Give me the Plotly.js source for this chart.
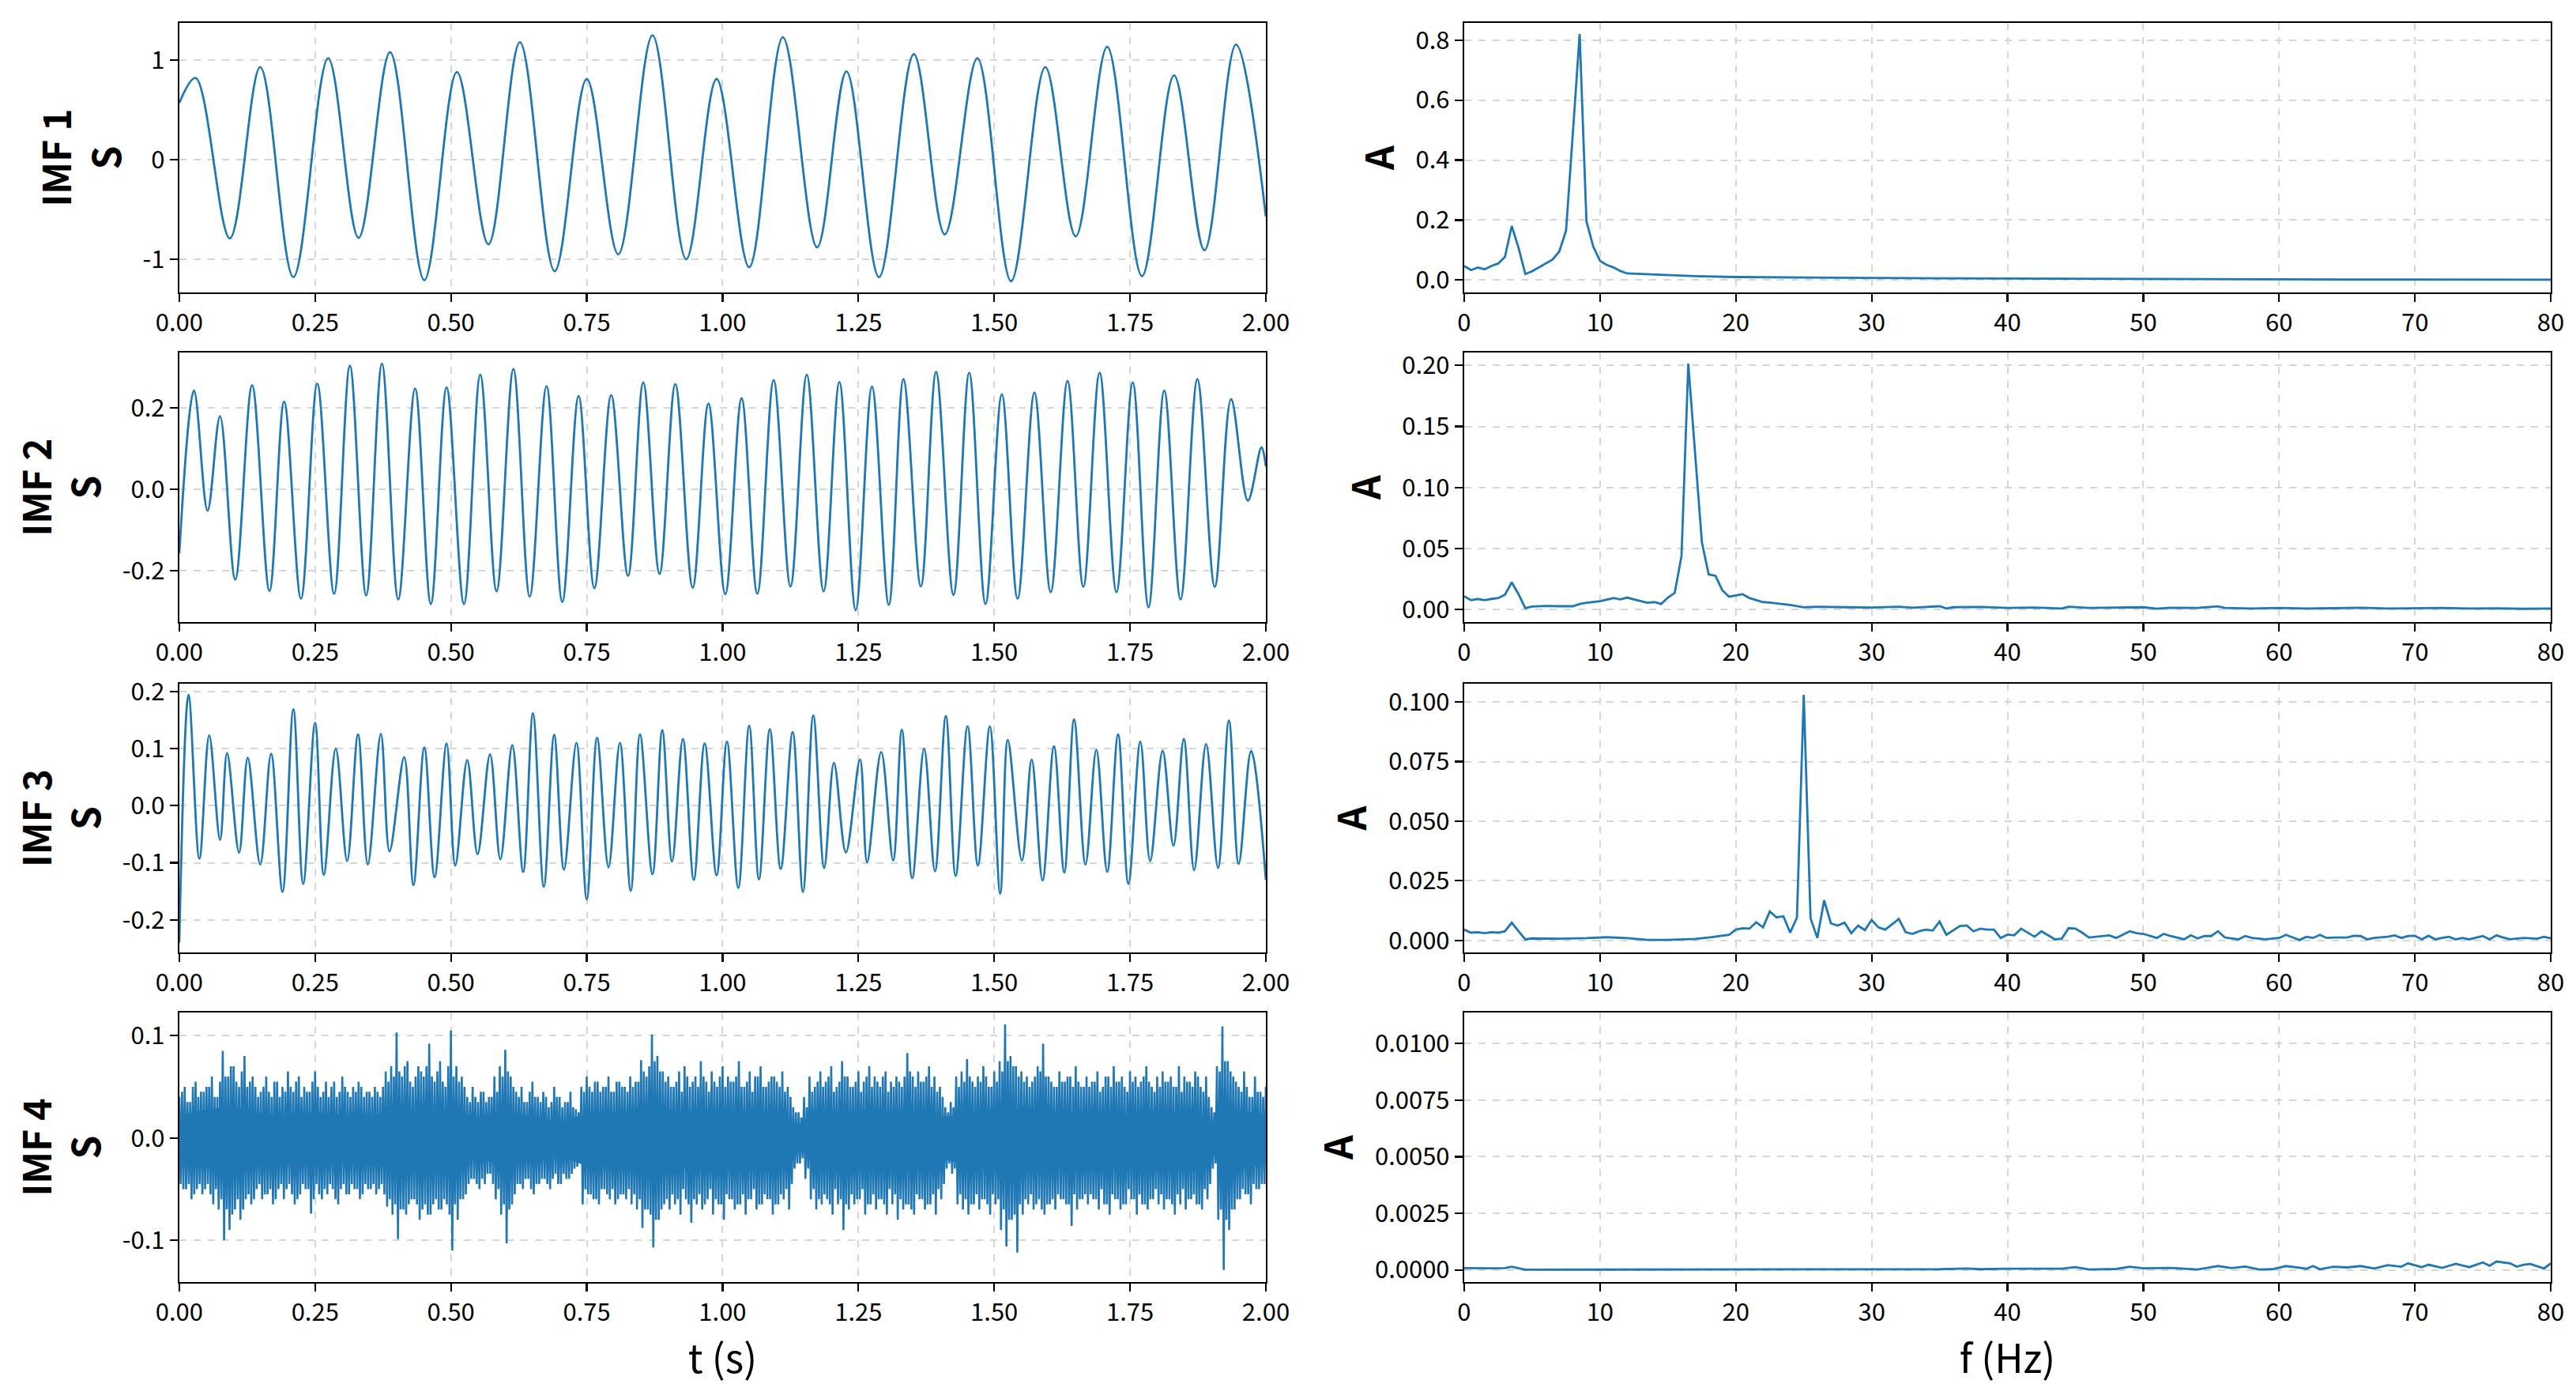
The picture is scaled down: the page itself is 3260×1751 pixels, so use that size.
<!DOCTYPE html>
<html>
<head>
<meta charset="utf-8">
<script src="https://cdn.plot.ly/plotly-3.0.1.min.js"></script>
<style>html,body{margin:0;padding:0;background:#fff}#chart{width:3260px;height:1751px}</style>
</head>
<body>
<div id="chart"></div>
<script>
// ---------- IMF time-domain data (extrema) ----------
const imf1T = [0,0.030,0.093,0.149,0.210,0.274,0.330,0.388,0.451,0.511,0.569,0.627,0.691,0.750,0.808,0.871,0.933,0.989,1.049,1.111,1.174,1.228,1.288,1.352,1.409,1.469,1.531,1.594,1.650,1.708,1.772,1.831,1.887,1.945,2.0];
const imf1V = [0.57,0.82,-0.79,0.93,-1.18,1.02,-0.785,1.08,-1.21,0.88,-0.85,1.18,-1.12,0.81,-0.95,1.25,-1.0,0.81,-1.08,1.23,-0.88,0.886,-1.18,1.06,-0.75,1.02,-1.22,0.93,-0.77,1.135,-1.17,0.846,-0.91,1.157,-0.57];

const imf2T = [0,0.027,0.052,0.075,0.103,0.134,0.166,0.193,0.224,0.254,0.285,0.314,0.344,0.373,0.403,0.434,0.463,0.492,0.524,0.554,0.584,0.615,0.645,0.676,0.705,0.735,0.764,0.795,0.826,0.854,0.884,0.913,0.945,0.974,1.005,1.035,1.064,1.094,1.125,1.155,1.186,1.215,1.245,1.275,1.306,1.333,1.365,1.393,1.425,1.454,1.484,1.514,1.543,1.574,1.604,1.635,1.664,1.694,1.725,1.755,1.784,1.813,1.843,1.874,1.906,1.936,1.967,1.992,2.0];
const imf2V = [-0.157,0.243,-0.052,0.18,-0.221,0.256,-0.249,0.216,-0.268,0.26,-0.256,0.304,-0.26,0.309,-0.27,0.248,-0.281,0.251,-0.281,0.282,-0.25,0.296,-0.263,0.254,-0.276,0.23,-0.242,0.232,-0.212,0.263,-0.207,0.259,-0.241,0.211,-0.257,0.224,-0.256,0.269,-0.238,0.282,-0.25,0.264,-0.296,0.253,-0.283,0.271,-0.238,0.289,-0.259,0.287,-0.281,0.234,-0.268,0.238,-0.252,0.267,-0.239,0.287,-0.252,0.263,-0.289,0.243,-0.27,0.271,-0.239,0.222,-0.027,0.104,0.057];

const imf3T = [0,0.017,0.037,0.055,0.075,0.088,0.110,0.126,0.149,0.169,0.190,0.210,0.228,0.250,0.266,0.288,0.309,0.329,0.347,0.371,0.387,0.414,0.431,0.451,0.470,0.492,0.508,0.530,0.549,0.572,0.591,0.613,0.633,0.651,0.671,0.690,0.708,0.731,0.750,0.769,0.790,0.811,0.831,0.848,0.871,0.889,0.907,0.927,0.947,0.967,0.989,1.008,1.029,1.049,1.067,1.087,1.107,1.129,1.148,1.167,1.187,1.205,1.227,1.253,1.266,1.292,1.314,1.330,1.349,1.371,1.391,1.411,1.429,1.451,1.470,1.492,1.511,1.525,1.551,1.569,1.589,1.610,1.629,1.647,1.668,1.688,1.708,1.728,1.747,1.769,1.787,1.810,1.830,1.849,1.868,1.890,1.912,1.932,1.950,1.973,2.0];
const imf3V = [-0.24,0.194,-0.093,0.123,-0.06,0.092,-0.082,0.084,-0.103,0.091,-0.151,0.169,-0.137,0.145,-0.121,0.1,-0.097,0.125,-0.103,0.126,-0.08,0.085,-0.139,0.102,-0.125,0.109,-0.105,0.08,-0.085,0.09,-0.094,0.106,-0.116,0.162,-0.142,0.124,-0.112,0.11,-0.164,0.119,-0.108,0.11,-0.149,0.125,-0.12,0.132,-0.098,0.117,-0.13,0.109,-0.122,0.112,-0.144,0.14,-0.129,0.134,-0.111,0.129,-0.151,0.158,-0.109,0.075,-0.082,0.081,-0.099,0.094,-0.096,0.133,-0.127,0.1,-0.115,0.157,-0.123,0.139,-0.105,0.139,-0.154,0.115,-0.096,0.081,-0.131,0.104,-0.117,0.151,-0.103,0.098,-0.116,0.125,-0.137,0.112,-0.097,0.096,-0.07,0.117,-0.113,0.108,-0.109,0.149,-0.102,0.096,-0.13];

// IMF 4: excursions read every 0.01 s; in each 0.01 s slot: hi, lo, hi2, lo2
const imf4Step = 0.01;
const imf4Hi = [
 0.04,0.05,0.035,0.055,0.045,0.05,0.06,0.04,
 0.085,0.06,0.07,0.05,0.08,0.055,
 0.05,0.045,0.06,0.04,0.055,0.05,0.065,0.045,0.06,0.05,0.045,0.065,0.04,0.055,0.05,0.04,0.06,0.045,0.05,0.055,0.04,
 0.045,0.05,0.04,0.065,0.07,0.103,0.06,0.075,0.05,0.07,0.06,0.092,0.055,0.075,0.05,0.105,0.07,0.06,
 0.04,0.05,0.035,0.045,0.04,0.06,
 0.07,0.086,0.06,
 0.045,0.05,0.035,0.055,0.04,0.045,0.03,0.05,0.04,0.035,0.045,0.028,
 0.05,0.06,0.045,0.055,0.05,0.06,0.045,0.055,0.05,0.06,0.055,
 0.076,0.06,0.101,0.08,0.065,
 0.06,0.05,0.065,0.07,0.05,0.06,0.075,0.055,0.065,0.05,0.07,0.06,0.055,0.075,0.05,0.065,0.06,0.07,0.05,0.06,0.055,0.065,0.05,
 0.03,0.025,0.04,
 0.06,0.05,0.065,0.055,0.07,0.05,0.075,0.06,0.05,0.065,0.055,0.07,0.06,0.05,0.065,0.055,0.06,0.05,0.083,0.06,0.065,0.055,0.07,0.06,0.05,
 0.03,0.035,
 0.06,0.065,0.077,0.055,0.06,0.07,0.05,0.065,
 0.075,0.111,0.08,0.07,
 0.065,0.06,0.055,0.07,0.092,0.06,0.05,0.065,0.055,0.06,0.07,0.05,
 0.06,0.055,0.065,0.05,0.06,0.07,0.055,0.05,0.065,0.06,0.055,0.07,0.05,0.06,0.065,0.055,0.05,0.07,0.06,0.055,0.065,0.05,0.06,
 0.03,
 0.07,0.109,0.075,0.06,
 0.05,0.065,0.04,0.06,0.045,0.05];
const imf4Lo = [
 -0.045,-0.05,-0.06,-0.05,-0.055,-0.045,-0.065,-0.07,
 -0.1,-0.09,-0.07,-0.08,-0.06,-0.065,
 -0.05,-0.06,-0.055,-0.065,-0.05,-0.06,-0.045,-0.065,-0.055,-0.05,-0.074,-0.045,-0.06,-0.055,-0.05,-0.065,-0.045,-0.055,-0.05,-0.06,-0.045,
 -0.05,-0.055,-0.045,-0.067,-0.075,-0.099,-0.07,-0.065,-0.06,-0.08,-0.065,-0.075,-0.06,-0.07,-0.065,-0.11,-0.08,-0.06,
 -0.045,-0.04,-0.05,-0.045,-0.035,-0.06,
 -0.075,-0.103,-0.065,
 -0.045,-0.05,-0.04,-0.055,-0.045,-0.04,-0.05,-0.035,-0.045,-0.04,-0.035,-0.028,
 -0.065,-0.055,-0.06,-0.065,-0.05,-0.06,-0.065,-0.055,-0.06,-0.065,-0.07,
 -0.088,-0.07,-0.107,-0.08,-0.065,
 -0.07,-0.065,-0.075,-0.06,-0.083,-0.065,-0.07,-0.06,-0.075,-0.065,-0.08,-0.06,-0.07,-0.065,-0.075,-0.06,-0.07,-0.065,-0.06,-0.075,-0.065,-0.06,-0.07,
 -0.03,-0.025,-0.04,
 -0.06,-0.07,-0.065,-0.06,-0.075,-0.065,-0.09,-0.07,-0.065,-0.06,-0.075,-0.065,-0.07,-0.06,-0.075,-0.065,-0.08,-0.07,-0.065,-0.075,-0.06,-0.07,-0.065,-0.075,-0.06,
 -0.03,-0.035,
 -0.065,-0.07,-0.075,-0.065,-0.07,-0.06,-0.075,-0.065,
 -0.09,-0.106,-0.08,-0.112,
 -0.075,-0.065,-0.07,-0.06,-0.075,-0.065,-0.07,-0.06,-0.065,-0.086,-0.07,-0.06,
 -0.065,-0.06,-0.07,-0.065,-0.075,-0.06,-0.07,-0.065,-0.06,-0.075,-0.065,-0.07,-0.06,-0.065,-0.07,-0.06,-0.075,-0.065,-0.07,-0.06,-0.065,-0.07,-0.06,
 -0.03,
 -0.08,-0.129,-0.09,-0.07,
 -0.06,-0.055,-0.065,-0.05,-0.045,-0.04];
const imf4Hi2 = [
 0.045,0.035,0.05,0.04,0.045,0.05,0.04,0.055,
 0.06,0.07,0.055,0.065,0.05,0.06,
 0.04,0.05,0.045,0.055,0.04,0.045,0.05,0.055,0.04,0.045,0.055,0.05,0.045,0.04,0.055,0.045,0.05,0.04,0.045,0.05,0.045,
 0.04,0.045,0.05,0.055,0.06,0.065,0.07,0.055,0.06,0.065,0.07,0.06,0.065,0.055,0.07,0.06,0.055,0.05,
 0.035,0.04,0.045,0.035,0.04,0.045,
 0.06,0.065,0.05,
 0.04,0.035,0.045,0.04,0.035,0.04,0.035,0.04,0.03,0.035,0.03,0.025,
 0.045,0.05,0.055,0.045,0.05,0.045,0.055,0.05,0.045,0.05,0.055,
 0.065,0.07,0.075,0.065,0.055,
 0.05,0.055,0.045,0.06,0.055,0.05,0.06,0.045,0.055,0.06,0.05,0.055,0.06,0.05,0.055,0.045,0.06,0.05,0.055,0.06,0.05,0.045,0.04,
 0.025,0.02,0.03,
 0.045,0.055,0.05,0.06,0.045,0.055,0.06,0.05,0.055,0.045,0.06,0.05,0.055,0.06,0.045,0.05,0.055,0.06,0.065,0.05,0.055,0.06,0.05,0.045,0.04,
 0.025,0.03,
 0.05,0.055,0.06,0.05,0.055,0.06,0.05,0.055,
 0.065,0.075,0.07,0.06,
 0.055,0.05,0.06,0.065,0.06,0.055,0.05,0.055,0.06,0.05,0.055,0.05,
 0.05,0.055,0.045,0.06,0.05,0.055,0.06,0.045,0.055,0.05,0.06,0.055,0.045,0.05,0.055,0.06,0.05,0.045,0.055,0.05,0.06,0.045,0.04,
 0.025,
 0.065,0.075,0.065,0.055,
 0.045,0.05,0.04,0.045,0.04];
const imf4Lo2 = [
 -0.05,-0.045,-0.055,-0.045,-0.05,-0.055,-0.05,-0.06,
 -0.07,-0.075,-0.06,-0.07,-0.055,-0.06,
 -0.045,-0.055,-0.05,-0.06,-0.045,-0.05,-0.055,-0.06,-0.045,-0.05,-0.06,-0.055,-0.05,-0.045,-0.06,-0.05,-0.055,-0.045,-0.05,-0.055,-0.05,
 -0.045,-0.05,-0.055,-0.06,-0.065,-0.07,-0.075,-0.06,-0.065,-0.07,-0.075,-0.065,-0.07,-0.06,-0.075,-0.065,-0.06,-0.055,
 -0.04,-0.045,-0.04,-0.035,-0.045,-0.05,
 -0.065,-0.07,-0.055,
 -0.045,-0.04,-0.05,-0.045,-0.04,-0.045,-0.04,-0.045,-0.035,-0.04,-0.03,-0.025,
 -0.05,-0.055,-0.06,-0.05,-0.055,-0.05,-0.06,-0.055,-0.05,-0.055,-0.06,
 -0.07,-0.075,-0.08,-0.07,-0.06,
 -0.055,-0.06,-0.05,-0.065,-0.06,-0.055,-0.065,-0.05,-0.06,-0.065,-0.055,-0.06,-0.065,-0.055,-0.06,-0.05,-0.065,-0.055,-0.06,-0.065,-0.055,-0.05,-0.045,
 -0.025,-0.02,-0.03,
 -0.05,-0.06,-0.055,-0.065,-0.05,-0.06,-0.065,-0.055,-0.06,-0.05,-0.065,-0.055,-0.06,-0.065,-0.05,-0.055,-0.06,-0.065,-0.07,-0.055,-0.06,-0.065,-0.055,-0.05,-0.045,
 -0.025,-0.03,
 -0.055,-0.06,-0.065,-0.055,-0.06,-0.065,-0.055,-0.06,
 -0.07,-0.08,-0.075,-0.065,
 -0.06,-0.055,-0.065,-0.07,-0.065,-0.06,-0.055,-0.06,-0.065,-0.055,-0.06,-0.055,
 -0.055,-0.06,-0.05,-0.065,-0.055,-0.06,-0.065,-0.05,-0.06,-0.055,-0.065,-0.06,-0.05,-0.055,-0.06,-0.065,-0.055,-0.05,-0.06,-0.055,-0.065,-0.05,-0.045,
 -0.025,
 -0.07,-0.08,-0.07,-0.06,
 -0.05,-0.055,-0.045,-0.05,-0.045];
// IMF 4: solid core of the band, every 0.05 s (t = 0.00 ... 2.00)
const imf4CoreStep = 0.05;
const imf4CoreHi = [0.022,0.028,0.03,0.024,0.022,0.025,0.022,0.02,0.03,0.026,0.028,0.02,0.026,0.02,0.015,0.024,0.022,0.03,0.027,0.026,0.028,0.026,0.022,0.012,0.026,0.024,0.027,0.026,0.02,0.024,0.027,0.03,0.026,0.023,0.025,0.022,0.027,0.024,0.015,0.027,0.022];
const imf4CoreLo = [-0.024,-0.03,-0.033,-0.027,-0.026,-0.028,-0.024,-0.023,-0.032,-0.03,-0.03,-0.02,-0.028,-0.02,-0.016,-0.028,-0.026,-0.033,-0.03,-0.03,-0.03,-0.03,-0.026,-0.012,-0.03,-0.027,-0.03,-0.03,-0.02,-0.027,-0.03,-0.034,-0.03,-0.026,-0.027,-0.026,-0.03,-0.026,-0.016,-0.03,-0.024];

// ---------- amplitude spectra ----------
const spec1F = [0,0.5,1,1.5,2,2.5,3,3.5,4,4.5,5,5.5,6,6.5,7,7.5,8,8.5,9,9.5,10,10.5,11,11.5,12,13,14,15,17,20,25,30,35,40,45,50,55,60,65,70,75,80];
const spec1A = [0.047,0.033,0.042,0.036,0.047,0.055,0.077,0.18,0.108,0.02,0.029,0.042,0.055,0.068,0.095,0.165,0.49,0.82,0.196,0.112,0.064,0.05,0.042,0.03,0.022,0.02,0.018,0.016,0.013,0.01,0.008,0.007,0.006,0.005,0.0045,0.004,0.003,0.0025,0.002,0.0015,0.0012,0.001];

const spec2F = [0,0.5,1,1.5,2,2.5,3,3.5,4,4.5,5,6,7,8,8.5,9,10,10.5,11,11.5,12,12.5,13,13.5,14,14.5,15,15.5,16,16.5,17,17.5,18,18.5,19,19.5,20,20.5,21,21.5,22,22.5,23,24,25,26,28,30,32,33,35,35.5,36,38,40,42,44,44.5,46,48,50,51,52,54,55.5,56,58,60,62,64,66,68,70,72,74,76,78,80];
const spec2A = [0.0108,0.0076,0.0086,0.0076,0.0086,0.0093,0.012,0.0222,0.0125,0.001,0.0024,0.0028,0.0026,0.0026,0.0045,0.0054,0.0067,0.0082,0.0093,0.0082,0.0097,0.0082,0.0067,0.0054,0.006,0.0045,0.0097,0.0136,0.0438,0.2015,0.128,0.055,0.0287,0.0276,0.0158,0.0104,0.0114,0.0125,0.0093,0.0078,0.006,0.0056,0.005,0.0037,0.0017,0.0022,0.0018,0.0016,0.0022,0.0014,0.0026,0.0008,0.0018,0.002,0.0012,0.0016,0.0008,0.0022,0.0012,0.0015,0.0018,0.0006,0.0014,0.0012,0.0025,0.0012,0.0008,0.0012,0.0008,0.001,0.0014,0.0008,0.001,0.0012,0.0008,0.0009,0.0005,0.0008];

const spec3F = [0,0.5,1,1.5,2,2.5,3,3.5,4,4.5,
 5,7,9,10.5,12,13.5,15,17,18,19,
 19.5,20,20.5,21,21.5,22,22.5,23,23.5,24,
 24.5,25,25.5,26,26.5,27,27.5,28,28.5,29,
 29.5,30,30.5,31,31.5,32,32.5,33,33.5,34,
 34.5,35,35.5,36,36.5,37,37.5,38,38.5,39,
 39.5,40,40.5,41,41.5,42,42.5,43,43.5,44,
 44.5,45,45.5,46,47,47.5,48,49,49.5,50,
 51,51.5,52,53,53.5,54,54.5,55,55.5,56,
 57,57.5,58,59,60,60.5,61,61.5,62,62.5,
 63,63.5,64,65,65.5,66,66.5,67,68,68.5,
 69,69.5,70,70.5,71,71.5,72,72.5,73,73.5,
 74,75,75.5,76,76.5,77,78,79,79.5,80];
const spec3A = [0.0045,0.0032,0.0034,0.003,0.0034,0.0032,0.0038,0.0074,0.0038,0.0004,
 0.0008,0.0007,0.0009,0.0013,0.0009,0.0002,0.0002,0.0006,0.0012,0.0021,
 0.0023,0.0045,0.0051,0.0049,0.0076,0.0054,0.0121,0.0096,0.0101,0.0032,
 0.0096,0.103,0.0093,0.001,0.0168,0.0071,0.0062,0.0074,0.003,0.0062,
 0.0043,0.0085,0.0054,0.0045,0.0067,0.009,0.0034,0.0027,0.0038,0.0045,
 0.0041,0.0079,0.0023,0.0043,0.006,0.0062,0.0038,0.0049,0.0045,0.0045,
 0.001,0.0024,0.0021,0.0049,0.0032,0.0015,0.0038,0.0021,0.0004,0.0007,
 0.0051,0.0049,0.0032,0.0012,0.0018,0.0021,0.001,0.0038,0.003,0.0027,
 0.001,0.0027,0.0018,0.0004,0.0021,0.0008,0.0018,0.0018,0.0038,0.0012,
 0.0004,0.0018,0.001,0.0004,0.001,0.0023,0.0012,0.0001,0.0015,0.001,
 0.0023,0.001,0.0012,0.0012,0.0019,0.0018,0.0004,0.001,0.0015,0.0021,
 0.001,0.0018,0.0019,0.0004,0.0019,0.0004,0.001,0.0015,0.0004,0.001,
 0.0004,0.0018,0.0004,0.0021,0.0012,0.0004,0.001,0.0007,0.0015,0.0008];

const spec4F = [0,1,2,3,3.5,4.5,10,20,30,33,35,37,38,40,42,44,45,46,48,49,50,51,52,53,54,55.5,56.5,57.5,58.5,59.5,60.5,61.5,62,62.5,63,64,65,66,67,68,69,69.5,70.5,71,72,73,74,75,75.5,76,77,77.5,78,78.5,79,79.5,80];
const spec4A = [0.00008,0.00007,0.00007,0.00008,0.00014,0.00001,0.00001,0.00001,0.00001,0.00002,0.00003,0.00006,0.00003,0.00005,0.00004,0.00005,0.00012,0.00002,0.00004,0.00014,0.00007,0.00008,0.00009,0.00005,0.00002,0.00017,0.00008,0.00015,0.00002,0.00003,0.00017,0.0001,0.00005,0.00017,0.00003,0.00014,0.00011,0.00017,0.00006,0.00021,0.00014,0.00029,0.00012,0.00023,0.00009,0.00027,0.00012,0.00033,0.00018,0.00037,0.00029,0.00014,0.00023,0.00026,0.00017,0.00006,0.00029];

// ---------- tick labels ----------
const tTicks = [0,0.25,0.5,0.75,1,1.25,1.5,1.75,2];
const tTickText = ['0.00','0.25','0.50','0.75','1.00','1.25','1.50','1.75','2.00'];
const fTicks = [0,10,20,30,40,50,60,70,80];
const fTickText = ['0','10','20','30','40','50','60','70','80'];
const imfYTicks = [[-1,0,1],[-0.2,0,0.2],[-0.2,-0.1,0,0.1,0.2],[-0.1,0,0.1]];
const imfYText = [['-1','0','1'],['-0.2','0.0','0.2'],['-0.2','-0.1','0.0','0.1','0.2'],['-0.1','0.0','0.1']];
const specYTicks = [[0,0.2,0.4,0.6,0.8],[0,0.05,0.1,0.15,0.2],[0,0.025,0.05,0.075,0.1],[0,0.0025,0.005,0.0075,0.01]];
const specYText = [['0.0','0.2','0.4','0.6','0.8'],['0.00','0.05','0.10','0.15','0.20'],['0.000','0.025','0.050','0.075','0.100'],['0.0000','0.0025','0.0050','0.0075','0.0100']];
const imfNames = ['IMF 1','IMF 2','IMF 3','IMF 4'];

// ---------- layout geometry ----------
const colX = [[0.0696,0.4914],[0.5684,0.9902]];
const rowY = [[0.7887,0.9834],[0.5505,0.7453],[0.3118,0.5060],[0.0737,0.2684]];
const imfYRange = [[-1.333,1.373],[-0.3256,0.3366],[-0.2572,0.2137],[-0.1408,0.1225]];
const specYRange = [[-0.0413,0.857],[-0.0104,0.2106],[-0.0051,0.1077],[-0.000535,0.01137]];

const BLUE = '#1f77b4';
const FONT = '"Noto Sans CJK SC", "DejaVu Sans", sans-serif';

// IMF 4 trace: in each 0.01 s slot the samples hi, lo, hi2, lo2
const imf4X = [], imf4Y = [];
for (let i = 0; i < imf4Hi.length; i++) {
  const t = i * imf4Step;
  imf4X.push(t); imf4Y.push(imf4Hi[i]);
  imf4X.push(t + imf4Step / 4); imf4Y.push(imf4Lo[i]);
  if (i < imf4Hi2.length) {
    imf4X.push(t + imf4Step / 2); imf4Y.push(imf4Hi2[i]);
    imf4X.push(t + 3 * imf4Step / 4); imf4Y.push(imf4Lo2[i]);
  }
}
const imf4CoreX = imf4CoreHi.map((_, i) => i * imf4CoreStep);

const imfSeries = [[imf1T, imf1V, 'spline'], [imf2T, imf2V, 'spline'], [imf3T, imf3V, 'spline'], [imf4X, imf4Y, 'linear']];
const specSeries = [[spec1F, spec1A], [spec2F, spec2A], [spec3F, spec3A], [spec4F, spec4A]];

const traces = [];
const layout = {
  width: 3260, height: 1751,
  margin: {l: 0, r: 0, t: 0, b: 0},
  paper_bgcolor: '#fff', plot_bgcolor: '#fff',
  showlegend: false,
  font: {family: FONT, color: '#000'}
};

function axisBase(domain, anchor) {
  return {
    domain: domain, anchor: anchor,
    showline: true, linecolor: '#000', linewidth: 2.2, mirror: true,
    ticks: 'outside', ticklen: 10, tickwidth: 2.2, tickcolor: '#000',
    showgrid: true, gridcolor: '#d6d6d6', gridwidth: 2, griddash: 'dash',
    zeroline: false,
    tickfont: {family: FONT, size: 31, color: '#000'},
    tickmode: 'array'
  };
}

// IMF 4 solid core (drawn first, underneath)
traces.push({type: 'scatter', mode: 'lines', x: imf4CoreX, y: imf4CoreLo, xaxis: 'x7', yaxis: 'y7',
  line: {color: BLUE, width: 0}, hoverinfo: 'skip'});
traces.push({type: 'scatter', mode: 'lines', x: imf4CoreX, y: imf4CoreHi, xaxis: 'x7', yaxis: 'y7',
  line: {color: BLUE, width: 0}, fill: 'tonexty', fillcolor: BLUE, hoverinfo: 'skip'});

for (let r = 0; r < 4; r++) {
  for (let c = 0; c < 2; c++) {
    const n = r * 2 + c + 1;
    const xa = n === 1 ? 'x' : 'x' + n;
    const ya = n === 1 ? 'y' : 'y' + n;
    const xKey = n === 1 ? 'xaxis' : 'xaxis' + n;
    const yKey = n === 1 ? 'yaxis' : 'yaxis' + n;
    const ser = c === 0 ? imfSeries[r] : specSeries[r];
    traces.push({
      type: 'scatter', mode: 'lines', x: ser[0], y: ser[1],
      xaxis: xa, yaxis: ya,
      line: {color: BLUE, width: c === 0 && r === 3 ? 2.6 : 2.8, shape: c === 0 ? ser[2] : 'linear'},
      hoverinfo: 'skip'
    });
    const xo = axisBase(colX[c], ya);
    xo.range = c === 0 ? [0, 2] : [0, 80];
    xo.tickvals = c === 0 ? tTicks : fTicks;
    xo.ticktext = c === 0 ? tTickText : fTickText;
    if (r === 3) {
      xo.title = {text: c === 0 ? 't (s)' : 'f (Hz)', font: {family: FONT, size: 50, color: '#000'}, standoff: 14};
    }
    const yo = axisBase(rowY[r], xa);
    yo.range = c === 0 ? imfYRange[r] : specYRange[r];
    yo.tickvals = c === 0 ? imfYTicks[r] : specYTicks[r];
    yo.ticktext = c === 0 ? imfYText[r] : specYText[r];
    yo.title = {
      text: c === 0 ? imfNames[r] + '<br>S' : 'A',
      font: {family: FONT, size: 48, color: '#000', weight: 'bold'},
      standoff: 12
    };
    layout[xKey] = xo;
    layout[yKey] = yo;
  }
}

Plotly.newPlot('chart', traces, layout, {staticPlot: true, displayModeBar: false});
</script>
</body>
</html>
